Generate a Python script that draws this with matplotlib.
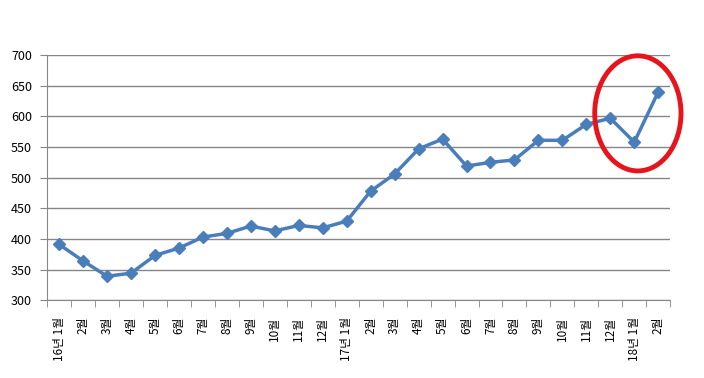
import matplotlib.pyplot as plt
from matplotlib.patches import Ellipse

plt.rcParams['font.family'] = ['Noto Sans CJK KR', 'DejaVu Sans']

months = ['16년 1월', '2월', '3월', '4월', '5월', '6월', '7월', '8월', '9월', '10월', '11월', '12월',
          '17년 1월', '2월', '3월', '4월', '5월', '6월', '7월', '8월', '9월', '10월', '11월', '12월',
          '18년 1월', '2월']
values = [391, 364, 339, 344, 373, 385, 403, 409, 421, 413, 422, 418,
          429, 478, 506, 547, 563, 519, 525, 529, 561, 561, 587, 597,
          558, 640]
yticks = [300, 350, 400, 450, 500, 550, 600, 650, 700]

fig = plt.figure(figsize=(7.04, 3.78), dpi=100)
ax = fig.add_axes([0.067, 0.206, 0.885, 0.648])

x = list(range(len(values)))
ax.plot(x, values, color='#4a7ebb', lw=2.5, marker='D', markersize=6,
        markeredgecolor='#4a7ebb', zorder=3)

ax.set_xlim(-0.5, len(values) - 0.5)
ax.set_ylim(300, 700)
ax.set_yticks(yticks)
ax.set_yticklabels([str(v) for v in yticks], fontsize=9)
ax.yaxis.grid(True, color='#868686', lw=1)
ax.set_axisbelow(True)

ax.set_xticks(x)
ax.set_xticklabels(months, rotation=90, fontsize=8.5, va='top')
ax.tick_params(axis='x', length=0, pad=12)
ax.set_xticks([i - 0.5 for i in range(len(values) + 1)], minor=True)
ax.tick_params(axis='x', which='minor', length=5, color='#868686')
ax.tick_params(axis='y', length=5, color='#868686', pad=6)

for s in ['top', 'right']:
    ax.spines[s].set_visible(False)
ax.spines['left'].set_color('#868686')
ax.spines['bottom'].set_color('#868686')

# highlight the last months
ell = Ellipse((24.15, 605), 3.6, 188, fill=False, edgecolor='#e8141c', lw=3.5,
              clip_on=False, zorder=4)
ax.add_patch(ell)

fig.savefig('out.png', dpi=100)
